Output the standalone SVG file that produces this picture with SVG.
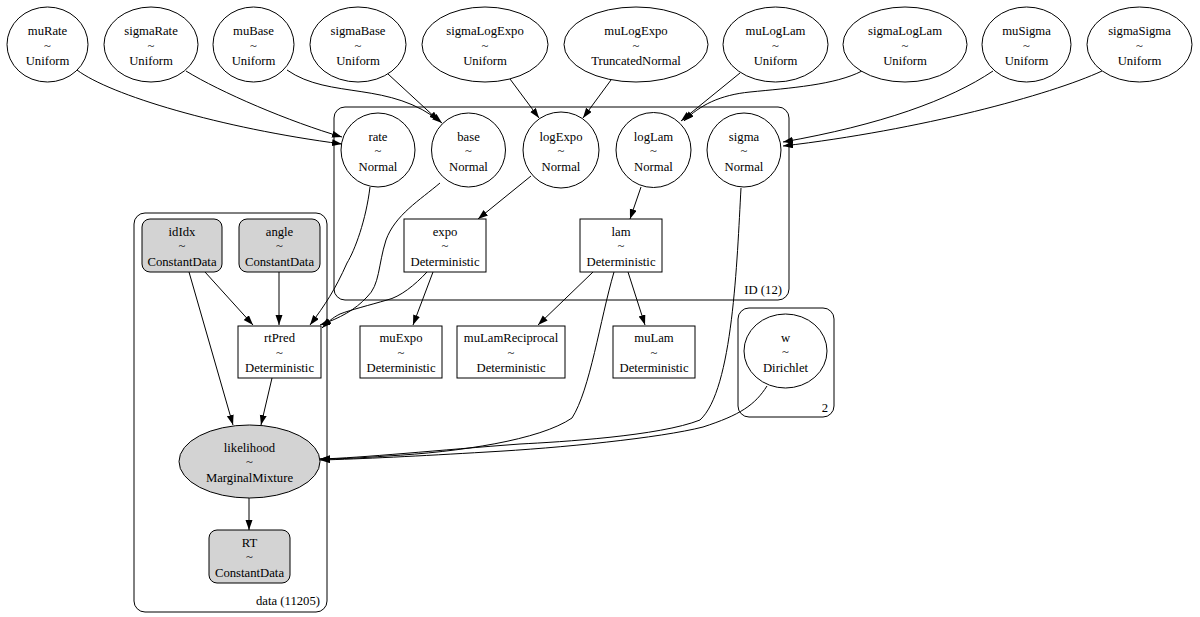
<svg xmlns="http://www.w3.org/2000/svg" width="1200" height="617" viewBox="0 0 1200 617">
<style>
text { font-family: "Liberation Serif", "Times New Roman", serif; font-size: 12.7px; fill: #000; text-anchor: middle; }
.n { fill: #fff; stroke: #000; stroke-width: 1; }
.g { fill: #d3d3d3; stroke: #000; stroke-width: 1; }
.cl { fill: none; stroke: #000; stroke-width: 1; }
.e { fill: none; stroke: #000; stroke-width: 1; marker-end: url(#ah); }
.r { text-anchor: end; }
</style>
<defs>
<marker id="ah" markerUnits="userSpaceOnUse" markerWidth="10" markerHeight="8" refX="10" refY="3.5" orient="auto">
<path d="M0,0 L10,3.5 L0,7 z" fill="#000"/>
</marker>
</defs>
<rect width="1200" height="617" fill="#fff"/>

<g id="clusters">
<rect class="cl" x="334" y="107" width="455" height="193" rx="11"/>
<text class="r" x="782" y="294">ID (12)</text>
<rect class="cl" x="134" y="213" width="193" height="399" rx="11"/>
<text class="r" x="320" y="605">data (11205)</text>
<rect class="cl" x="738" y="308" width="96" height="109" rx="11"/>
<text class="r" x="828" y="412">2</text>
</g>

<g id="connectors">
<path class="e" d="M77,70 C110,95 220,128 342,144"/>
<path class="e" d="M186,71 C220,92 290,122 342,137"/>
<path class="e" d="M287,70 C330,100 390,80 442,123"/>
<path class="e" d="M388,74 L439,121"/>
<path class="e" d="M510,79 L539,118"/>
<path class="e" d="M611,80 L583,118"/>
<path class="e" d="M740,73 L681,121"/>
<path class="e" d="M862,71 C835,85 790,88 750,92 C720,95 700,105 684,121"/>
<path class="e" d="M993,71 C950,100 880,125 783,142"/>
<path class="e" d="M1102,71 C1050,95 920,130 783,146"/>
<path class="e" d="M370,187 C366,220 355,250 347,263 C335,290 325,305 310,325"/>
<path class="e" d="M440,183 C420,200 395,215 386,240 C378,265 380,285 367,297 C355,310 340,318 320,325"/>
<path class="e" d="M427,272 C415,285 400,297 387,300 C370,305 350,310 340,314 C332,318 328,322 322,328"/>
<path class="e" d="M531,176 L478,219"/>
<path class="e" d="M641,187 L630,219"/>
<path class="e" d="M433,272 L413,325"/>
<path class="e" d="M593,272 L538,325"/>
<path class="e" d="M628,272 L645,325"/>
<path class="e" d="M614,272 C600,320 590,390 572,418 C540,440 460,452 387,456 C360,458 340,459 320,459"/>
<path class="e" d="M741,188 C737,260 733,390 700,420 C660,436 560,442 520,444 C440,450 360,458 320,459"/>
<path class="e" d="M767,386 C755,405 740,415 703,427 C660,438 560,448 487,452 C420,456 360,459 320,460"/>
<path class="e" d="M189,272 L233,425"/>
<path class="e" d="M205,272 L253,325"/>
<path class="e" d="M279,272 L279,325"/>
<path class="e" d="M272,378 L261,425"/>
<path class="e" d="M249,498 L249,530"/>
</g>

<g id="muRate"><ellipse class="n" cx="47.5" cy="44.5" rx="40.5" ry="37.5"/><text x="47.5" y="35">muRate</text><text x="47.5" y="50">~</text><text x="47.5" y="65">Uniform</text></g>
<g id="sigmaRate"><ellipse class="n" cx="151" cy="44.5" rx="47" ry="37.5"/><text x="151" y="35">sigmaRate</text><text x="151" y="50">~</text><text x="151" y="65">Uniform</text></g>
<g id="muBase"><ellipse class="n" cx="253.5" cy="44.5" rx="40.5" ry="37.5"/><text x="253.5" y="35">muBase</text><text x="253.5" y="50">~</text><text x="253.5" y="65">Uniform</text></g>
<g id="sigmaBase"><ellipse class="n" cx="358" cy="44.5" rx="48" ry="37.5"/><text x="358" y="35">sigmaBase</text><text x="358" y="50">~</text><text x="358" y="65">Uniform</text></g>
<g id="sigmaLogExpo"><ellipse class="n" cx="485" cy="44.5" rx="63" ry="37.5"/><text x="485" y="35">sigmaLogExpo</text><text x="485" y="50">~</text><text x="485" y="65">Uniform</text></g>
<g id="muLogExpo"><ellipse class="n" cx="636" cy="44.5" rx="72" ry="37.5"/><text x="636" y="35">muLogExpo</text><text x="636" y="50">~</text><text x="636" y="65">TruncatedNormal</text></g>
<g id="muLogLam"><ellipse class="n" cx="775.5" cy="44.5" rx="52.5" ry="37.5"/><text x="775.5" y="35">muLogLam</text><text x="775.5" y="50">~</text><text x="775.5" y="65">Uniform</text></g>
<g id="sigmaLogLam"><ellipse class="n" cx="905" cy="44.5" rx="62" ry="37.5"/><text x="905" y="35">sigmaLogLam</text><text x="905" y="50">~</text><text x="905" y="65">Uniform</text></g>
<g id="muSigma"><ellipse class="n" cx="1026.5" cy="44.5" rx="44.5" ry="37.5"/><text x="1026.5" y="35">muSigma</text><text x="1026.5" y="50">~</text><text x="1026.5" y="65">Uniform</text></g>
<g id="sigmaSigma"><ellipse class="n" cx="1139.5" cy="44.5" rx="52.5" ry="37.5"/><text x="1139.5" y="35">sigmaSigma</text><text x="1139.5" y="50">~</text><text x="1139.5" y="65">Uniform</text></g>

<g id="rate"><circle class="n" cx="378" cy="150" r="37"/><text x="378" y="140.5">rate</text><text x="378" y="155">~</text><text x="378" y="170.5">Normal</text></g>
<g id="base"><circle class="n" cx="468.5" cy="150" r="37"/><text x="468.5" y="140.5">base</text><text x="468.5" y="155">~</text><text x="468.5" y="170.5">Normal</text></g>
<g id="logExpo"><circle class="n" cx="561" cy="150" r="38"/><text x="561" y="140.5">logExpo</text><text x="561" y="155">~</text><text x="561" y="170.5">Normal</text></g>
<g id="logLam"><circle class="n" cx="653.5" cy="150" r="37.5"/><text x="653.5" y="140.5">logLam</text><text x="653.5" y="155">~</text><text x="653.5" y="170.5">Normal</text></g>
<g id="sigma"><circle class="n" cx="744" cy="150" r="37"/><text x="744" y="140.5">sigma</text><text x="744" y="155">~</text><text x="744" y="170.5">Normal</text></g>

<g id="expo"><rect class="n" x="404" y="219" width="82" height="53"/><text x="445" y="235.5">expo</text><text x="445" y="250">~</text><text x="445" y="265.5">Deterministic</text></g>
<g id="lam"><rect class="n" x="580" y="219" width="82" height="53"/><text x="621" y="235.5">lam</text><text x="621" y="250">~</text><text x="621" y="265.5">Deterministic</text></g>

<g id="idIdx"><rect class="g" x="142" y="219" width="80" height="53" rx="8"/><text x="182" y="235.5">idIdx</text><text x="182" y="250">~</text><text x="182" y="265.5">ConstantData</text></g>
<g id="angle"><rect class="g" x="239" y="219" width="81" height="53" rx="8"/><text x="279.5" y="235.5">angle</text><text x="279.5" y="250">~</text><text x="279.5" y="265.5">ConstantData</text></g>

<g id="rtPred"><rect class="n" x="238" y="326" width="83" height="52"/><text x="279.5" y="342">rtPred</text><text x="279.5" y="356.5">~</text><text x="279.5" y="372">Deterministic</text></g>
<g id="muExpo"><rect class="n" x="360" y="326" width="82" height="52"/><text x="401" y="342">muExpo</text><text x="401" y="356.5">~</text><text x="401" y="372">Deterministic</text></g>
<g id="muLamReciprocal"><rect class="n" x="457" y="326" width="108" height="52"/><text x="511" y="342">muLamReciprocal</text><text x="511" y="356.5">~</text><text x="511" y="372">Deterministic</text></g>
<g id="muLam"><rect class="n" x="613" y="326" width="82" height="52"/><text x="654" y="342">muLam</text><text x="654" y="356.5">~</text><text x="654" y="372">Deterministic</text></g>

<g id="w"><ellipse class="n" cx="785.5" cy="351" rx="41.5" ry="37"/><text x="785.5" y="341.5">w</text><text x="785.5" y="356">~</text><text x="785.5" y="371.5">Dirichlet</text></g>

<g id="likelihood"><ellipse class="g" cx="249.5" cy="461.5" rx="70.5" ry="36.5"/><text x="249.5" y="451.5">likelihood</text><text x="249.5" y="466">~</text><text x="249.5" y="481.5">MarginalMixture</text></g>
<g id="RT"><rect class="g" x="209" y="530" width="81" height="53" rx="8"/><text x="249.5" y="546.5">RT</text><text x="249.5" y="561">~</text><text x="249.5" y="576.5">ConstantData</text></g>
</svg>
